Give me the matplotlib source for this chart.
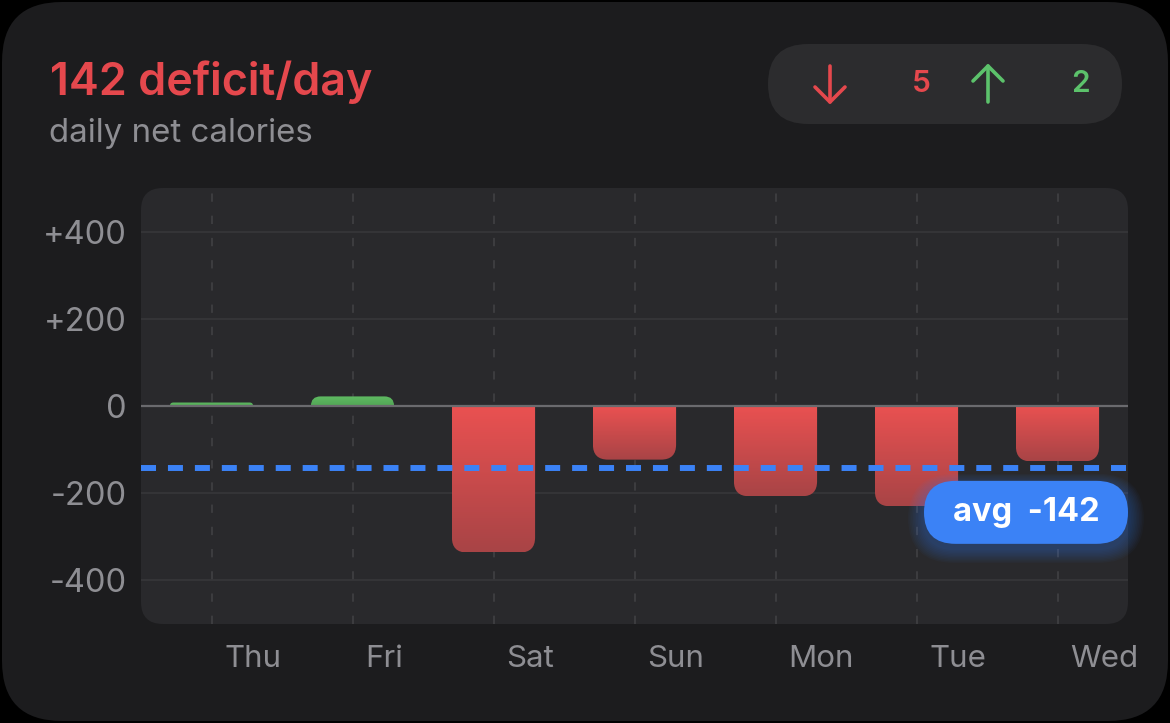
import numpy as np
import matplotlib
matplotlib.use('Agg')
import matplotlib.pyplot as plt
from matplotlib.patches import FancyBboxPatch
from matplotlib.colors import LinearSegmentedColormap
from matplotlib.lines import Line2D
from matplotlib.transforms import IdentityTransform, ScaledTranslation

# data
days = ['Thu', 'Fri', 'Sat', 'Sun', 'Mon', 'Tue', 'Wed']
net_kcal = [8, 22, -336, -123, -207, -230, -127]
y_ticks = [-400, -200, 0, 200, 400]
y_tick_labels = ['-400', '-200', '0', '+200', '+400']

avg = np.mean(net_kcal)
n_deficit = sum(1 for v in net_kcal if v < 0)
n_surplus = sum(1 for v in net_kcal if v > 0)

RED = '#e5484d'
GREEN = '#5cc26b'
BLUE = '#3b82f6'
GRAY = '#8e8e93'

W, H = 1170, 723
plt.rcParams['font.family'] = ['Inter', 'DejaVu Sans']
plt.rcParams['lines.scale_dashes'] = False

fig = plt.figure(figsize=(W / 100, H / 100), dpi=100, facecolor='black')
px = IdentityTransform()


def rbox(x, y_top, w, h, r, **kw):
    # rounded box in pixels, y measured from the top of the image
    return FancyBboxPatch((x, H - y_top - h), w, h,
                          boxstyle=f'round,pad=0,rounding_size={r}',
                          transform=px, **kw)


# card + chart panel
fig.add_artist(rbox(2, 2, W - 4, H - 4, 60, fc='#1c1c1e', ec='none', zorder=-3))
fig.add_artist(rbox(141, 188, 987, 436, 22, fc='#29292c', ec='none', zorder=-2))

# header
fig.text(50 / W, 1 - 95 / H, f'{abs(round(avg))} deficit/day', color=RED,
         fontsize=32.3, fontweight='semibold', va='baseline', ha='left')
fig.text(49 / W, 1 - 142 / H, 'daily net calories', color=GRAY,
         fontsize=23.8, va='baseline', ha='left')

# count pill
fig.add_artist(rbox(768, 44, 354, 80, 40, fc='#2c2c2e', ec='none', zorder=1))
for xs, ys in [([830, 830], [66, 102]), ([815, 830, 845], [87, 102, 87])]:
    fig.add_artist(Line2D(xs, [H - y for y in ys], color=RED, lw=2.6,
                          solid_capstyle='round', solid_joinstyle='round', transform=px, zorder=2))
for xs, ys in [([988, 988], [66, 102]), ([973, 988, 1003], [81, 66, 81])]:
    fig.add_artist(Line2D(xs, [H - y for y in ys], color=GREEN, lw=2.6,
                          solid_capstyle='round', solid_joinstyle='round', transform=px, zorder=2))
fig.text(921 / W, 1 - 84 / H, str(n_deficit), color=RED, fontsize=21.5,
         fontweight='semibold', ha='center', va='center')
fig.text(1080 / W, 1 - 84 / H, str(n_surplus), color=GREEN, fontsize=21.5,
         fontweight='semibold', ha='center', va='center')

# axes
ax_w_px, ax_h_px = 987, 436
ax = fig.add_axes([141 / W, (H - 624) / H, ax_w_px / W, ax_h_px / H])
ax.set_facecolor('none')
ax.set_xlim(-0.5, len(days) - 0.5)
ax.set_ylim(-500, 500)
for s in ax.spines.values():
    s.set_visible(False)

ux = ax_w_px / len(days)
uy = ax_h_px / 1000

for i in range(len(days)):
    ax.axvline(i, color='#3c3c3f', lw=1.5, dashes=(6, 10), zorder=1)
for t in y_ticks:
    if t == 0:
        ax.axhline(t, color='#6a6a6e', lw=1.6, zorder=3)
    else:
        ax.axhline(t, color='#38383b', lw=1.1, zorder=1)

red_cmap = LinearSegmentedColormap.from_list('r', ['#ea5151', '#a84446'])
green_cmap = LinearSegmentedColormap.from_list('g', ['#5fba62', '#52a656'])
grad = np.linspace(0, 1, 256).reshape(-1, 1)
bar_w = 0.59
for i, v in enumerate(net_kcal):
    r_px = min(15, abs(v) * uy)
    r_x, r_y = r_px / ux, r_px / uy
    x0 = i - bar_w / 2
    if v < 0:
        clip = FancyBboxPatch((x0, v), bar_w, -v + r_y,
                              boxstyle=f'round,pad=0,rounding_size={r_x}',
                              mutation_aspect=ux / uy, transform=ax.transData)
        ext = (x0, x0 + bar_w, v, 0)
        cmap = red_cmap
    else:
        clip = FancyBboxPatch((x0, -r_y), bar_w, v + r_y,
                              boxstyle=f'round,pad=0,rounding_size={r_x}',
                              mutation_aspect=ux / uy, transform=ax.transData)
        ext = (x0, x0 + bar_w, 0, v)
        cmap = green_cmap
    im = ax.imshow(grad, cmap=cmap, extent=ext, origin='upper', aspect='auto',
                   interpolation='bilinear', zorder=2)
    im.set_clip_path(clip)

ax.set_xlim(-0.5, len(days) - 0.5)
ax.set_ylim(-500, 500)

# average line
ax.axhline(avg, color=BLUE, lw=4.3, dashes=(10.8, 8.6), dash_capstyle='butt', zorder=4)

# ticks
ax.set_yticks(y_ticks)
ax.set_yticklabels(y_tick_labels)
ax.set_xticks(range(len(days)))
ax.set_xticklabels(days)
ax.tick_params(length=0, colors=GRAY, labelsize=22.5)
ax.tick_params(axis='y', labelsize=23.5, pad=10)
ax.tick_params(axis='x', pad=15)
for lab in ax.get_xticklabels():
    lab.set_ha('left')
    lab.set_transform(lab.get_transform() + ScaledTranslation(0.13, 0, fig.dpi_scale_trans))

# avg badge
avg_y = H - ax.transData.transform((0, avg))[1]
bx, by, bw, bh = 924, avg_y + 13, 204, 63
for k in range(10, 0, -1):
    fig.add_artist(rbox(bx - k * 1.6, by + 5 - k * 1.2, bw + k * 3.2, bh + k * 2.6,
                        31.5 + k * 1.4, fc=BLUE, ec='none', alpha=0.035, zorder=5))
fig.add_artist(rbox(bx, by, bw, bh, 31.5, fc=BLUE, ec='none', zorder=6))
fig.text((bx + bw / 2) / W, 1 - (by + bh / 2) / H, f'avg  -{abs(round(avg))}',
         color='white', fontsize=23.5, fontweight='bold', ha='center', va='center', zorder=7)

fig.savefig('out.png', dpi=100, facecolor='black')
